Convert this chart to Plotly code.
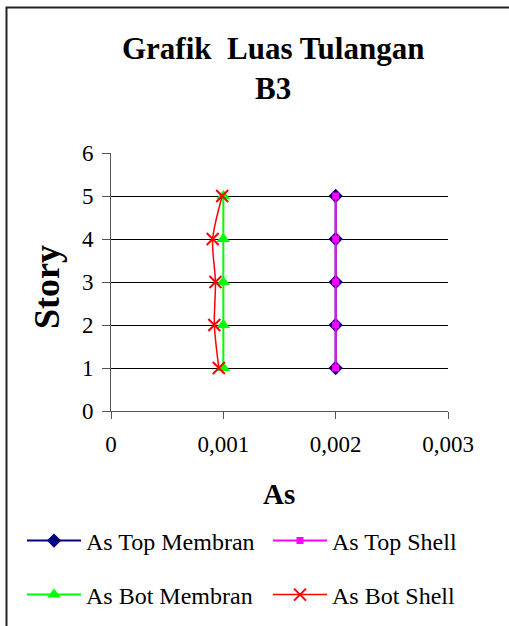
import plotly.graph_objects as go

# ---- data ----
story = [1, 2, 3, 4, 5]
as_top_membran = [0.002, 0.002, 0.002, 0.002, 0.002]
as_top_shell = [0.002, 0.002, 0.002, 0.002, 0.002]
as_bot_membran = [0.001, 0.001, 0.001, 0.001, 0.001]
as_bot_shell = [0.00096, 0.00092, 0.00093, 0.000905, 0.00099]

x_tickvals = [0, 0.001, 0.002, 0.003]
x_ticktext = ["0", "0,001", "0,002", "0,003"]
y_tickvals = [0, 1, 2, 3, 4, 5, 6]
grid_vals = [1, 2, 3, 4, 5]

FONT = "Liberation Serif, Times New Roman, serif"

L, R, T, B = 111, 61, 153, 215
WIDTH, HEIGHT = 509, 626
PW, PH = WIDTH - L - R, HEIGHT - T - B


def px(x):
    return (x - L) / PW


def py(y):
    return (HEIGHT - B - y) / PH


fig = go.Figure()

fig.add_trace(go.Scatter(
    x=as_top_membran, y=story, name="As Top Membran", mode="lines+markers",
    line=dict(color="#000080", width=2),
    marker=dict(symbol="diamond", size=11, color="#000080"),
    legend="legend"))
fig.add_trace(go.Scatter(
    x=as_top_shell, y=story, name="As Top Shell", mode="lines+markers",
    line=dict(color="#FF00FF", width=2),
    marker=dict(symbol="square", size=7, color="#FF00FF"),
    legend="legend2"))
fig.add_trace(go.Scatter(
    x=as_bot_membran, y=story, name="As Bot Membran", mode="lines+markers",
    line=dict(color="#00FF00", width=2),
    marker=dict(symbol="triangle-up", size=12, color="#00FF00"),
    legend="legend3"))
fig.add_trace(go.Scatter(
    x=as_bot_shell, y=story, name="As Bot Shell", mode="lines+markers",
    line=dict(color="#FF0000", width=1.5, shape="spline", smoothing=0.8),
    marker=dict(symbol="x-thin-open", size=12, color="#FF0000",
                line=dict(color="#FF0000", width=2)),
    legend="legend4"))

# invisible trace on overlay axis for gridlines 1..5
fig.add_trace(go.Scatter(x=[None], y=[None], xaxis="x", yaxis="y2",
                         showlegend=False, hoverinfo="skip"))

legend_common = dict(
    orientation="v", xanchor="left", yanchor="middle",
    font=dict(family=FONT, size=24, color="#000000"),
    bgcolor="rgba(0,0,0,0)", itemwidth=54, tracegroupgap=0,
)

fig.update_layout(
    width=WIDTH, height=HEIGHT,
    margin=dict(l=L, r=R, t=T, b=B, pad=0, autoexpand=False),
    paper_bgcolor="white", plot_bgcolor="white",
    font=dict(family=FONT, color="#000000"),
    xaxis=dict(
        range=[0, 0.003], tickvals=x_tickvals, ticktext=x_ticktext,
        showgrid=False, zeroline=False, showline=True, linecolor="#555555",
        linewidth=1, ticks="outside", ticklen=7, tickcolor="#555555",
        tickfont=dict(family=FONT, size=23, color="#000000"),
        ticklabelstandoff=5, automargin=False,
    ),
    yaxis=dict(
        range=[0, 6], tickvals=y_tickvals,
        showgrid=False, zeroline=False, showline=True, linecolor="#555555",
        linewidth=1, ticks="outside", ticklen=8, tickcolor="#555555",
        tickfont=dict(family=FONT, size=23, color="#000000"),
        ticklabelstandoff=4, automargin=False,
    ),
    yaxis2=dict(
        range=[0, 6], tickvals=grid_vals, overlaying="y", side="left",
        showgrid=True, gridcolor="#000000", gridwidth=1,
        showticklabels=False, ticks="", zeroline=False, showline=False,
        automargin=False,
    ),
    legend=dict(x=px(22), y=py(541), **legend_common),
    legend2=dict(x=px(268), y=py(541), **legend_common),
    legend3=dict(x=px(22), y=py(595), **legend_common),
    legend4=dict(x=px(268), y=py(595), **legend_common),
    showlegend=True,
)

fig.add_annotation(text="<b>Grafik  Luas Tulangan</b>", xref="paper", yref="paper",
                   x=px(273), y=py(49), xanchor="center", yanchor="middle",
                   showarrow=False, font=dict(family=FONT, size=31, color="#000000"))
fig.add_annotation(text="<b>B3</b>", xref="paper", yref="paper",
                   x=px(273), y=py(88), xanchor="center", yanchor="middle",
                   showarrow=False, font=dict(family=FONT, size=31, color="#000000"))
fig.add_annotation(text="<b>As</b>", xref="paper", yref="paper",
                   x=px(279), y=py(494), xanchor="center", yanchor="middle",
                   showarrow=False, font=dict(family=FONT, size=29, color="#000000"))
fig.add_annotation(text="<b>Story</b>", xref="paper", yref="paper",
                   x=px(47), y=py(287), xanchor="center", yanchor="middle",
                   textangle=-90, showarrow=False,
                   font=dict(family=FONT, size=36, color="#000000"))

fig.add_shape(type="rect", xref="paper", yref="paper",
              x0=px(6.5), x1=px(540), y0=py(660), y1=py(7.5),
              line=dict(color="#222222", width=2), fillcolor="rgba(0,0,0,0)",
              layer="below")

fig.write_html("out.html")
